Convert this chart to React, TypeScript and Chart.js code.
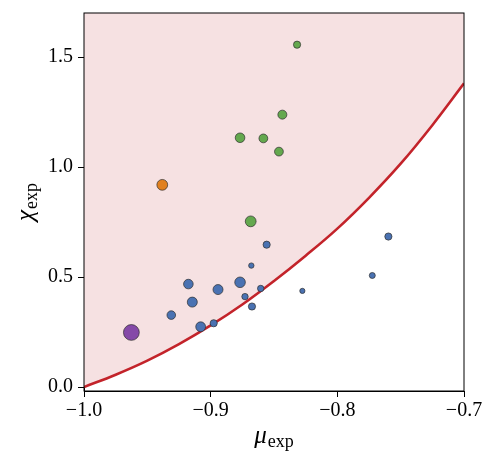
import React, { useEffect, useRef } from 'react';
import { Chart, registerables } from 'chart.js';

Chart.register(...registerables);

// points, grouped by colour: x = mu_exp, y = chi_exp, r = marker radius
const blueX = [-0.8558, -0.7597, -0.8679, -0.7724, -0.9176, -0.8768, -0.8942, -0.8605, -0.8276, -0.8729, -0.9145, -0.8674, -0.9311, -0.9079, -0.8976];
const blueY = [0.647, 0.684, 0.552, 0.507, 0.468, 0.476, 0.443, 0.448, 0.437, 0.411, 0.386, 0.366, 0.327, 0.274, 0.290];
const blueR = [3.6, 3.6, 2.7, 3.0, 4.8, 5.3, 5.0, 3.2, 2.6, 3.2, 5.0, 3.6, 4.3, 4.9, 3.6];

const greenX = [-0.8318, -0.8434, -0.8768, -0.8584, -0.8461, -0.8684];
const greenY = [1.556, 1.238, 1.133, 1.130, 1.070, 0.753];
const greenR = [3.6, 4.5, 4.8, 4.4, 4.4, 5.4];

const orangeX = [-0.9382];
const orangeY = [0.919];
const orangeR = [5.4];

const purpleX = [-0.9626];
const purpleY = [0.248];
const purpleR = [7.9];

// boundary curve
const curveX = [-1.0, -0.975, -0.95, -0.925, -0.9, -0.875, -0.85, -0.825, -0.8, -0.775, -0.75, -0.725, -0.7];
const curveY = [0.0, 0.056, 0.12, 0.195, 0.28, 0.375, 0.482, 0.597, 0.72, 0.86, 1.015, 1.19, 1.38];

const xTicks = [-1.0, -0.9, -0.8, -0.7];
const yTicks = [0.0, 0.5, 1.0, 1.5];

const FONT = '"Liberation Serif", "Times New Roman", serif';

const toPoints = (xs: number[], ys: number[]) => xs.map((x, i) => ({ x, y: ys[i] }));
const fmt = (v: number) => v.toFixed(1).replace('-', '\u2212');

// frame round the plot + axis labels with subscripts
const decorations = {
    id: 'decorations',
    afterDraw(chart: any) {
        const { ctx, chartArea: a } = chart;
        ctx.save();
        ctx.strokeStyle = '#000';
        ctx.lineWidth = 1;
        ctx.strokeRect(a.left, a.top, a.right - a.left, a.bottom - a.top);

        const label = (sym: string, sub: string, cx: number, baseline: number) => {
            ctx.font = `italic 25px ${FONT}`;
            const w1 = ctx.measureText(sym).width;
            ctx.font = `18px ${FONT}`;
            const w2 = ctx.measureText(sub).width;
            const x0 = cx - (w1 + w2 + 1) / 2;
            ctx.fillStyle = '#000';
            ctx.textAlign = 'left';
            ctx.textBaseline = 'alphabetic';
            ctx.font = `italic 25px ${FONT}`;
            ctx.fillText(sym, x0, baseline);
            ctx.font = `18px ${FONT}`;
            ctx.fillText(sub, x0 + w1 + 1, baseline + 4);
        };

        const cx = (a.left + a.right) / 2;
        label('\u03bc', 'exp', cx, 443);

        ctx.translate(33, (a.top + a.bottom) / 2);
        ctx.rotate(-Math.PI / 2);
        label('\u03c7', 'exp', 0, 0);
        ctx.restore();
    },
};

const ScatterChart: React.FC = () => {
    const chartRef = useRef<HTMLCanvasElement>(null);
    const chartInstanceRef = useRef<Chart | null>(null);

    useEffect(() => {
        if (!chartRef.current) return;
        const c2d = chartRef.current.getContext('2d');
        if (!c2d) return;

        if (chartInstanceRef.current) {
            chartInstanceRef.current.destroy();
        }

        const dot = (xs: number[], ys: number[], rs: number[], color: string) => ({
            type: 'scatter' as const,
            data: toPoints(xs, ys),
            backgroundColor: color,
            borderColor: '#2e2e2e',
            borderWidth: 0.7,
            pointRadius: rs,
            pointHoverRadius: rs,
            order: 0,
        });

        chartInstanceRef.current = new Chart(c2d, {
            type: 'scatter',
            data: {
                datasets: [
                    dot(purpleX, purpleY, purpleR, '#8549a8'),
                    dot(orangeX, orangeY, orangeR, '#e1801f'),
                    dot(greenX, greenY, greenR, '#64a84e'),
                    dot(blueX, blueY, blueR, '#4a72b2'),
                    {
                        type: 'line' as const,
                        data: toPoints(curveX, curveY),
                        borderColor: '#c3232a',
                        borderWidth: 2.6,
                        pointRadius: 0,
                        tension: 0.4,
                        fill: 'end',
                        backgroundColor: '#f6e1e2',
                        order: 5,
                    } as any,
                ],
            },
            options: {
                animation: false,
                responsive: true,
                maintainAspectRatio: false,
                layout: { padding: { top: 13, right: 36, left: 0, bottom: 0 } },
                plugins: {
                    legend: { display: false },
                    tooltip: { enabled: false },
                },
                scales: {
                    x: {
                        type: 'linear',
                        min: -1.0,
                        max: -0.7,
                        afterBuildTicks: (s: any) => { s.ticks = xTicks.map((value) => ({ value })); },
                        afterFit: (s: any) => {
                            s.height = 74;
                            s.paddingLeft = 0;
                            s.paddingRight = 0;
                        },
                        ticks: {
                            callback: (v: any) => fmt(Number(v)),
                            font: { family: FONT, size: 20 },
                            color: '#000',
                            padding: 2,
                            maxRotation: 0,
                        },
                        grid: { drawOnChartArea: false, drawTicks: true, tickLength: 6, tickColor: '#000' },
                        border: { display: true, color: '#000', width: 1 },
                    },
                    y: {
                        type: 'linear',
                        min: -0.018,
                        max: 1.7,
                        afterBuildTicks: (s: any) => { s.ticks = yTicks.map((value) => ({ value })); },
                        afterFit: (s: any) => {
                            s.width = 84;
                            s.paddingTop = 0;
                            s.paddingBottom = 0;
                        },
                        ticks: {
                            callback: (v: any) => fmt(Number(v)),
                            font: { family: FONT, size: 20 },
                            color: '#000',
                            padding: 5,
                        },
                        grid: { drawOnChartArea: false, drawTicks: true, tickLength: 6, tickColor: '#000' },
                        border: { display: true, color: '#000', width: 1 },
                    },
                },
            },
            plugins: [decorations],
        });

        return () => {
            if (chartInstanceRef.current) {
                chartInstanceRef.current.destroy();
                chartInstanceRef.current = null;
            }
        };
    }, []);

    return <canvas ref={chartRef} />;
};

export default function App() {
    return (
        <div style={{ position: 'absolute', left: 0, top: 0, width: 500, height: 465, background: '#fff' }}>
            <ScatterChart />
        </div>
    );
}
